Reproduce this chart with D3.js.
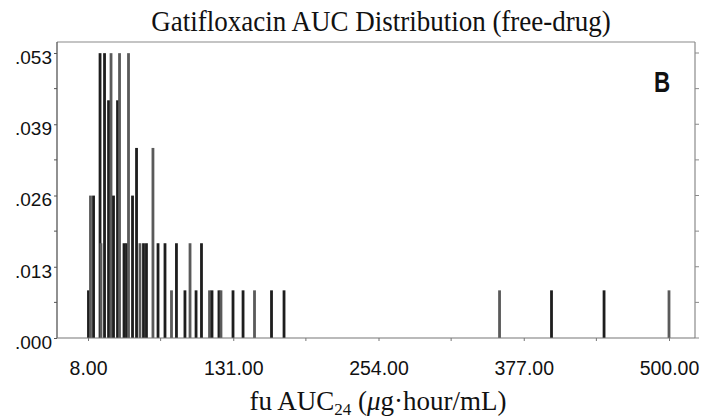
<!DOCTYPE html>
<html>
<head>
<meta charset="utf-8">
<script src="https://cdn.jsdelivr.net/npm/d3@7"></script>
<style>
  html, body { margin: 0; padding: 0; background: #fff; }
  svg { display: block; }
</style>
</head>
<body>
<svg id="chart" width="717" height="419"></svg>
<script>
// Free-drug AUC24 values (µg·hour/mL) and their relative frequencies
const aucValues = [
  8.4, 10.1, 12.7, 18.2, 19.0, 22.0, 25.4, 27.5, 29.6, 33.0,
  34.7, 38.5, 40.6, 42.3, 45.7, 49.1, 52.0, 55.0, 57.5, 63.0,
  67.3, 73.2, 78.7, 82.9, 90.1, 94.4, 99.5, 104.1, 110.9, 113.0,
  118.9, 120.6, 130.8, 139.3, 149.0, 163.4, 174.0, 356.5, 400.5, 445.0,
  500.0
];
const frequencies = [
  0.0088, 0.0263, 0.0263, 0.0526, 0.0175, 0.0526, 0.0439, 0.0526, 0.0263, 0.0439,
  0.0526, 0.0175, 0.0175, 0.0526, 0.0263, 0.0351, 0.0175, 0.0175, 0.0175, 0.0351,
  0.0175, 0.0175, 0.0088, 0.0175, 0.0088, 0.0175, 0.0088, 0.0175, 0.0088, 0.0088,
  0.0088, 0.0088, 0.0088, 0.0088, 0.0088, 0.0088, 0.0088, 0.0088, 0.0088, 0.0088,
  0.0088
];
const xTickValues = [8, 131, 254, 377, 500];
const yTickValues = [0, 0.013158, 0.026316, 0.039474, 0.052632];

const titleText = "Gatifloxacin AUC Distribution (free-drug)";
const panelLabel = "B";

const svg = d3.select("#chart");

// Frame of the plotting area
const frame = { left: 57, right: 695, top: 42, bottom: 338 };

const x = d3.scaleLinear().domain([8, 500]).range([88, 669]);
const y = d3.scaleLinear().domain([0, 0.052632]).range([frame.bottom, 53]);

// Title
svg.append("text")
  .attr("transform", "translate(381,31) scale(1,1.1)")
  .attr("text-anchor", "middle")
  .attr("font-family", "'Liberation Serif', 'Times New Roman', serif")
  .attr("font-size", 27)
  .attr("fill", "#111")
  .text(titleText);

// Frame outline (top and right in lighter grey)
svg.append("line")
  .attr("x1", frame.left).attr("x2", frame.right)
  .attr("y1", frame.top).attr("y2", frame.top)
  .attr("stroke", "#8a8a8a").attr("stroke-width", 1.2);
svg.append("line")
  .attr("x1", frame.right).attr("x2", frame.right)
  .attr("y1", frame.top).attr("y2", frame.bottom)
  .attr("stroke", "#8a8a8a").attr("stroke-width", 1.2);

// Right-side ticks at the same values as the left axis plus half steps
const yAllTicks = d3.range(0, 9).map(i => i * 0.052632 / 8);
svg.append("g").selectAll("line")
  .data(yAllTicks)
  .join("line")
  .attr("x1", frame.right).attr("x2", frame.right + 4)
  .attr("y1", d => y(d)).attr("y2", d => y(d))
  .attr("stroke", "#8a8a8a").attr("stroke-width", 1);

// Bars
svg.append("g").selectAll("rect")
  .data(aucValues.map((v, i) => ({ v, f: frequencies[i], i })))
  .join("rect")
  .attr("x", d => x(d.v) - 1.4)
  .attr("width", 2.8)
  .attr("y", d => y(d.f))
  .attr("height", d => y(0) - y(d.f))
  .attr("fill", d => d.i % 3 === 1 ? "#5a5a5a" : "#1e1e1e");

// Left axis
const yAxis = d3.axisLeft(y)
  .tickValues(yTickValues)
  .tickSize(3)
  .tickPadding(2)
  .tickFormat(d => d3.format(".3f")(d).replace(/^0/, ""));
const gy = svg.append("g")
  .attr("transform", `translate(${frame.left},0)`)
  .call(yAxis);
gy.select(".domain").attr("d", `M0,${frame.top}V${frame.bottom}`).attr("stroke", "#555").attr("stroke-width", 1.3);
gy.selectAll(".tick line").attr("stroke", "#555");
gy.selectAll(".tick text")
  .attr("font-family", "'Liberation Sans', Arial, sans-serif")
  .attr("font-size", 19)
  .attr("fill", "#111")
  .attr("dy", "0.55em");
// Minor ticks on the left axis
svg.append("g").selectAll("line")
  .data(yAllTicks.filter((d, i) => i % 2 === 1))
  .join("line")
  .attr("x1", frame.left - 3).attr("x2", frame.left)
  .attr("y1", d => y(d)).attr("y2", d => y(d))
  .attr("stroke", "#555");

// Bottom axis
const xAxis = d3.axisBottom(x)
  .tickValues(xTickValues)
  .tickSize(3)
  .tickPadding(20)
  .tickFormat(d3.format(".2f"));
const gx = svg.append("g")
  .attr("transform", `translate(0,${frame.bottom})`)
  .call(xAxis);
gx.select(".domain").attr("d", `M${frame.left},0H${frame.right}`).attr("stroke", "#777").attr("stroke-width", 1.2);
gx.selectAll(".tick line").attr("stroke", "#777");
gx.selectAll(".tick text")
  .attr("font-family", "'Liberation Sans', Arial, sans-serif")
  .attr("font-size", 19.5)
  .attr("fill", "#111");
// Minor ticks on the bottom axis
svg.append("g").selectAll("line")
  .data(xTickValues.slice(1).map((d, i) => (d + xTickValues[i]) / 2))
  .join("line")
  .attr("x1", d => x(d)).attr("x2", d => x(d))
  .attr("y1", frame.bottom).attr("y2", frame.bottom + 3)
  .attr("stroke", "#777");

// Panel label
svg.append("text")
  .attr("transform", "translate(662,92) scale(0.8,1.05)")
  .attr("text-anchor", "middle")
  .attr("font-family", "'Liberation Sans', Arial, sans-serif")
  .attr("font-weight", "bold")
  .attr("font-size", 28)
  .attr("fill", "#111")
  .text(panelLabel);

// X axis title with subscript and Greek mu
const xt = svg.append("text")
  .attr("x", 378).attr("y", 410)
  .attr("text-anchor", "middle")
  .attr("font-family", "'Liberation Serif', 'Times New Roman', serif")
  .attr("font-size", 27)
  .attr("fill", "#111");
xt.append("tspan").text("fu AUC");
xt.append("tspan").attr("font-size", 17).attr("dy", 5).text("24");
xt.append("tspan").attr("dy", -5).text(" (");
xt.append("tspan").attr("font-style", "italic").text("\u03bc");
xt.append("tspan").text("g\u00b7hour/mL)");
</script>
</body>
</html>
